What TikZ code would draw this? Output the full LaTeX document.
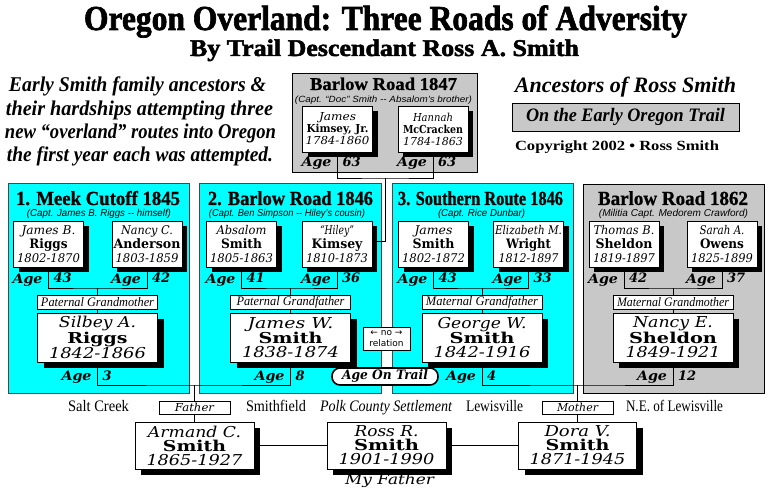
\documentclass[tikz,border=0pt]{standalone}
\usepackage{fontspec}
\usepackage{graphicx}
\usetikzlibrary{shadows,calc}
\setmainfont{Liberation Serif}
\newfontfamily\dvs{DejaVu Serif}
\newfontfamily\lis{Liberation Serif}
\newfontfamily\heavyA{Liberation Serif}[FakeBold=2]
\newfontfamily\heavyB{Liberation Serif}[FakeBold=0.8]
\newfontfamily\lisans{Liberation Sans}
\newfontfamily\dvsans{DejaVu Sans}
\definecolor{cyanP}{RGB}{0,255,255}
\definecolor{grayP}{RGB}{200,200,200}
\definecolor{cborder}{RGB}{100,60,60}
\newcommand\fw[2]{\resizebox{#1pt}{\height}{#2}}
\newcommand\pF[2]{\fw{#1}{\dvs\itshape\fontsize{12}{14}\selectfont #2}}
\newcommand\pS[2]{\fw{#1}{\dvs\bfseries\fontsize{13}{14}\selectfont #2}}
\newcommand\cF[2]{\fw{#1}{\dvs\itshape\fontsize{15}{15}\selectfont #2}}
\newcommand\cS[2]{\fw{#1}{\dvs\bfseries\fontsize{15}{15}\selectfont #2}}
\newcommand\bF[2]{\fw{#1}{\dvs\itshape\fontsize{11}{12}\selectfont #2}}
\newcommand\bS[2]{\fw{#1}{\dvs\bfseries\fontsize{11}{12}\selectfont #2}}
\newcommand\ptitle[1]{\heavyB\bfseries\fontsize{20}{20}\selectfont #1}
\newcommand\psub[1]{\lisans\itshape\fontsize{10}{10}\selectfont #1}
\newcommand\parf{\lis\bfseries\itshape\fontsize{21}{21}\selectfont}
\newcommand\place[1]{\lis\fontsize{16}{16}\selectfont #1}
\newcommand\agepair[4]{%
  \node[agetxt, anchor=base east] (#1a) at ({#2-6},#3) {\fw{30}{Age}};
  \node[agetxt, anchor=base west] (#1n) at ({#2+5},#3) {#4};}
\tikzset{
  txt/.style={inner sep=0pt, outer sep=0pt},
  agetxt/.style={txt, font=\dvs\bfseries\itshape\fontsize{13}{13}\selectfont},
  boxbase/.style={draw, line width=0.8pt, fill=white, inner sep=0pt, outer sep=0pt, align=center},
  pbox/.style={boxbase, minimum width=70pt, minimum height=46pt,
    font=\fontsize{12}{14}\selectfont,
    drop shadow={shadow xshift=5pt, shadow yshift=-5pt, fill=black, opacity=1}},
  bbox/.style={pbox, font=\fontsize{11}{12}\selectfont},
  cbox/.style={boxbase, minimum width=120pt, minimum height=49pt,
    font=\fontsize{15}{14}\selectfont,
    drop shadow={shadow xshift=6pt, shadow yshift=-6pt, fill=black, opacity=1}},
  lbl/.style={boxbase, minimum width=120pt, minimum height=14pt,
    font=\lis\itshape\fontsize{13}{13}\selectfont},
  conn/.style={line width=0.8pt},
  cpanel/.style={fill=cyanP, draw=cborder, line width=1pt},
  gpanel/.style={fill=grayP, draw=black, line width=0.8pt}
}
\begin{document}
\begin{tikzpicture}[x=1pt,y=-1pt]
\useasboundingbox (0,0) rectangle (772,492);
\fill[white] (0,0) rectangle (772,492);

% ---------- headings ----------
\node[txt,anchor=base] (title) at (385.5,30) {\fw{603}{\heavyA\bfseries\fontsize{35}{35}\selectfont Oregon Overland: Three Roads of Adversity}};
\node[txt,anchor=base] (subtitle) at (384.5,56) {\fw{389}{\heavyA\bfseries\fontsize{24}{24}\selectfont By Trail Descendant Ross A. Smith}};

\node[txt,anchor=base] (l1) at (137.5,92) {\fw{257}{\parf Early Smith family ancestors \&}};
\node[txt,anchor=base] (l2) at (139.5,116) {\fw{267}{\parf their hardships attempting three}};
\node[txt,anchor=base] (l3) at (140.5,139) {\fw{271}{\parf new “overland” routes into Oregon}};
\node[txt,anchor=base] (l4) at (140,162) {\fw{266}{\parf the first year each was attempted.}};

\node[txt,anchor=base] (anc) at (625.5,93) {\fw{221}{\lis\bfseries\itshape\fontsize{22}{22}\selectfont Ancestors of Ross Smith}};
\node[draw, line width=0.8pt, fill=grayP, minimum width=227pt, minimum height=28pt, inner sep=0pt] (trail) at (625.5,117) {\fw{199}{\lis\bfseries\itshape\fontsize{19}{19}\selectfont On the Early Oregon Trail}};
\node[txt,anchor=base] (copy) at (617,151) {\fw{204}{\lis\bfseries\fontsize{14}{14}\selectfont Copyright 2002 • Ross Smith}};

% ---------- Barlow Road 1847 ----------
\draw[gpanel] (292,73) rectangle (477,172);
\node[txt,anchor=base] (b47t) at (383.5,90) {\fw{147}{\heavyB\bfseries\fontsize{18}{18}\selectfont Barlow Road 1847}};
\node[txt,anchor=base] (b47s) at (383.5,102.5) {\fw{177}{\lisans\itshape\fontsize{9}{9}\selectfont (Capt. “Doc” Smith -- Absalom’s brother)}};
\node[bbox] (kimJr) at (337.5,129) {\bF{37}{James}\\\bS{62}{Kimsey, Jr.}\\\bF{64}{1784-1860}};
\node[bbox] (hannah) at (433,129) {\bF{40}{Hannah}\\\bS{60}{McCracken}\\\bF{60}{1784-1863}};
\agepair{kimJrAge}{337.5}{167}{63}
\agepair{hannahAge}{433}{167}{63}

% ---------- panels ----------
\draw[cpanel] (8,184) rectangle (189,393);
\draw[cpanel] (199,184) rectangle (381,393);
\draw[cpanel] (392,184) rectangle (573,393);
\draw[gpanel] (583,184) rectangle (764,393);

\node[txt,anchor=base] (p1t) at (98,205) {\fw{164}{\ptitle{1. Meek Cutoff 1845}}};
\node[txt,anchor=base] (p1s) at (99,216.5) {\fw{144}{\psub{(Capt. James B. Riggs -- himself)}}};
\node[txt,anchor=base] (p2t) at (290.5,205) {\fw{165}{\ptitle{2. Barlow Road 1846}}};
\node[txt,anchor=base] (p2s) at (287,216.5) {\fw{156}{\psub{(Capt. Ben Simpson -- Hiley’s cousin)}}};
\node[txt,anchor=base] (p3t) at (480.5,205) {\fw{165}{\ptitle{3. Southern Route 1846}}};
\node[txt,anchor=base] (p3s) at (481.5,216.5) {\fw{87}{\psub{(Capt. Rice Dunbar)}}};
\node[txt,anchor=base] (p4t) at (673,205) {\fw{150}{\ptitle{Barlow Road 1862}}};
\node[txt,anchor=base] (p4s) at (673.5,216.5) {\fw{149}{\psub{(Militia Capt. Medorem Crawford)}}};

% grandparents
\node[pbox] (riggsJ) at (48.5,244) {\pF{54}{James B.}\\\pS{38}{Riggs}\\\pF{63}{1802-1870}};
\node[pbox] (andersonN) at (147,244) {\pF{52}{Nancy C.}\\\pS{67}{Anderson}\\\pF{63}{1803-1859}};
\node[pbox] (smithA) at (241.5,244) {\pF{50}{Absalom}\\\pS{41}{Smith}\\\pF{63}{1805-1863}};
\node[pbox] (kimseyH) at (337,244) {\pF{34}{“Hiley”}\\\pS{51}{Kimsey}\\\pF{62}{1810-1873}};
\node[pbox] (smithJ) at (433.5,244) {\pF{38}{James}\\\pS{42}{Smith}\\\pF{63}{1802-1872}};
\node[pbox] (wrightE) at (528.5,244) {\pF{67}{Elizabeth M.}\\\pS{45}{Wright}\\\pF{60}{1812-1897}};
\node[pbox] (sheldonT) at (624,244) {\pF{61}{Thomas B.}\\\pS{57}{Sheldon}\\\pF{62}{1819-1897}};
\node[pbox] (owensS) at (722,244) {\pF{45}{Sarah A.}\\\pS{44}{Owens}\\\pF{62}{1825-1899}};

\agepair{riggsJAge}{48.5}{283}{43}
\agepair{andersonNAge}{147}{283}{42}
\agepair{smithAAge}{241.5}{283}{41}
\agepair{kimseyHAge}{337}{283}{36}
\agepair{smithJAge}{433.5}{283}{43}
\agepair{wrightEAge}{528.5}{283}{33}
\agepair{sheldonTAge}{624}{283}{42}
\agepair{owensSAge}{722}{283}{37}

% labels
\node[lbl] (lab1) at (97.5,302) {\fw{113}{Paternal Grandmother}};
\node[lbl] (lab2) at (290.5,302) {\fw{108}{Paternal Grandfather}};
\node[lbl] (lab3) at (482,302) {\fw{112}{Maternal Grandfather}};
\node[lbl] (lab4) at (673,302) {\fw{112}{Maternal Grandmother}};

% children
\node[cbox] (silbey) at (97.5,337.5) {\cF{77}{Silbey A.}\\\cS{60}{Riggs}\\\cF{97}{1842-1866}};
\node[cbox] (jamesW) at (290.5,337.5) {\cF{86}{James W.}\\\cS{64}{Smith}\\\cF{97}{1838-1874}};
\node[cbox] (george) at (482,337.5) {\cF{89}{George W.}\\\cS{65}{Smith}\\\cF{97}{1842-1916}};
\node[cbox] (nancyE) at (673,337.5) {\cF{80}{Nancy E.}\\\cS{88}{Sheldon}\\\cF{95}{1849-1921}};

\agepair{silbeyAge}{97.5}{380}{3}
\agepair{jamesWAge}{290.5}{380}{8}
\agepair{georgeAge}{482}{380}{4}
\agepair{nancyEAge}{673}{380}{12}

\node[boxbase, minimum width=47pt, minimum height=23pt, font=\dvsans\fontsize{9}{10.5}\selectfont] (norel) at (386.5,338.5) {← no →\\relation};
\node[boxbase, line width=1.6pt, rounded corners=8pt, minimum width=106pt, minimum height=17pt] (aot) at (385,376.5) {\fw{86}{\dvs\bfseries\itshape\fontsize{13}{13}\selectfont Age On Trail}};

% ---------- bottom ----------
\node[txt,anchor=base] (salt) at (98.5,411) {\fw{61}{\place{Salt Creek}}};
\node[txt,anchor=base] (smithfield) at (276,411) {\fw{60}{\place{Smithfield}}};
\node[txt,anchor=base] (polk) at (386,411) {\fw{132}{\lis\itshape\fontsize{16}{16}\selectfont Polk County Settlement}};
\node[txt,anchor=base] (lewis) at (494.5,411) {\fw{57}{\place{Lewisville}}};
\node[txt,anchor=base] (nelewis) at (674.5,411) {\fw{97}{\place{N.E. of Lewisville}}};

\node[boxbase, minimum width=71pt, minimum height=13pt, font=\dvs\itshape\fontsize{11}{11}\selectfont] (father) at (194.5,407.5) {\fw{39}{Father}};
\node[boxbase, minimum width=71pt, minimum height=13pt, font=\dvs\itshape\fontsize{11}{11}\selectfont] (mother) at (577.5,407.5) {\fw{41}{Mother}};

\node[cbox, minimum width=119pt, minimum height=47pt] (armand) at (194.5,445.5) {\cF{93}{Armand C.}\\\cS{63}{Smith}\\\cF{96}{1865-1927}};
\node[cbox, minimum width=119pt, minimum height=47pt] (ross) at (386.5,445.5) {\cF{64}{Ross R.}\\\cS{65}{Smith}\\\cF{96}{1901-1990}};
\node[cbox, minimum width=118pt, minimum height=47pt] (dora) at (577.5,445.5) {\cF{66}{Dora V.}\\\cS{64}{Smith}\\\cF{96}{1871-1945}};
\node[txt,anchor=base] (myfather) at (389.5,484) {\fw{89}{\dvs\itshape\fontsize{14}{14}\selectfont My Father}};

% ---------- connectors ----------
\coordinate (bj) at (385.25,178);
\draw[conn] (kimJr.south) |- (bj) -| (hannah.south);
\draw[conn] (bj) |- ($(kimseyH.east)+(0,-3)$);

\coordinate (j1) at (97.5,288);
\coordinate (j2) at (290.5,288);
\coordinate (j3) at (482,288);
\coordinate (j4) at (673,288);
\draw[conn] (riggsJ.south) |- (j1) -| (andersonN.south);
\draw[conn] (smithA.south) |- (j2) -| (kimseyH.south);
\draw[conn] (smithJ.south) |- (j3) -| (wrightE.south);
\draw[conn] (sheldonT.south) |- (j4) -| (owensS.south);
\draw[conn] (j1) -- (lab1.north);
\draw[conn] (j2) -- (lab2.north);
\draw[conn] (j3) -- (lab3.north);
\draw[conn] (j4) -- (lab4.north);
\draw[conn] (lab1.south) -- (silbey.north);
\draw[conn] (lab2.south) -- (jamesW.north);
\draw[conn] (lab3.south) -- (george.north);
\draw[conn] (lab4.south) -- (nancyE.north);

\coordinate (fj) at (194.5,385);
\coordinate (mj) at (577.5,385);
\draw[conn] (silbey.south) |- (fj) -| (jamesW.south);
\draw[conn] (george.south) |- (mj) -| (nancyE.south);
\draw[conn] (fj) -- (father.north);
\draw[conn] (mj) -- (mother.north);
\draw[conn] (father.south) -- (armand.north);
\draw[conn] (mother.south) -- (dora.north);
\draw[conn] (armand.east) -- (ross.west);
\draw[conn] (ross.east) -- (dora.west);
\end{tikzpicture}
\end{document}
